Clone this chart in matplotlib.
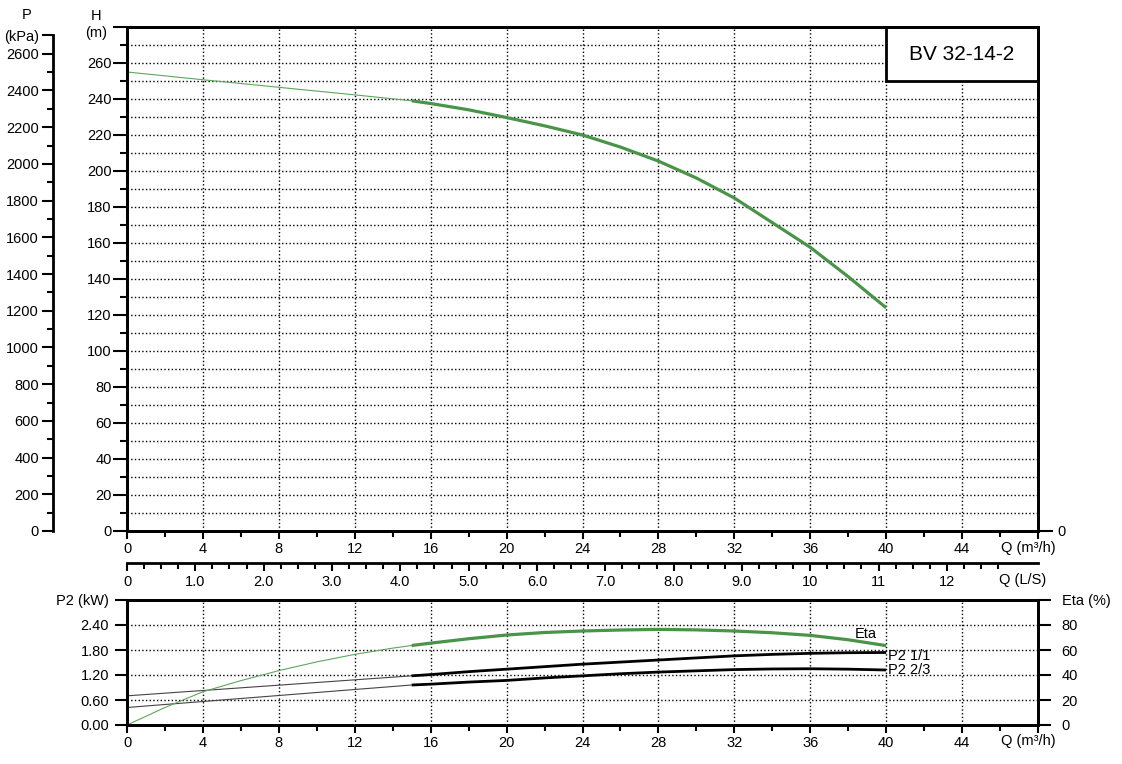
import matplotlib
matplotlib.use("Agg")
import matplotlib.pyplot as plt
from matplotlib.ticker import MultipleLocator
from matplotlib.patches import Rectangle

plt.rcParams['font.family'] = ['Liberation Sans', 'DejaVu Sans']
plt.rcParams['font.size'] = 10.5

# pump curve readings (Q in m3/h)
q_head = [0, 4, 8, 12, 15, 16, 18, 20, 22, 24, 26, 28, 30, 32, 34, 36, 38, 40]
head = [255, 250.7, 246.5, 242.3, 239, 237.5, 234, 229.7, 225.1, 220, 213.3,
        205.5, 196.1, 185, 171.3, 157.6, 141.3, 124]

q_eta = [0, 2, 4, 6, 8, 10, 12, 14, 15, 16, 18, 20, 22, 24, 26, 28, 30, 32,
         34, 36, 38, 40]
eta = [0, 14, 26.6, 35.5, 43.5, 50.5, 56.5, 61.5, 63.6, 65.5, 69, 72, 74,
       75.2, 76, 76.5, 76.1, 75.2, 73.8, 71.7, 68.2, 63.5]

q_p2 = [0, 15, 16, 18, 20, 22, 24, 26, 28, 30, 32, 34, 36, 38, 40]
p2_full = [0.70, 1.18, 1.21, 1.28, 1.34, 1.40, 1.46, 1.51, 1.56, 1.61, 1.66,
           1.695, 1.72, 1.735, 1.74]
p2_twothirds = [0.42, 0.96, 0.98, 1.03, 1.07, 1.13, 1.18, 1.23, 1.27, 1.30,
                1.33, 1.345, 1.35, 1.34, 1.32]

q_ticks = list(range(0, 49, 4))
q_ticklabels = [str(v) for v in range(0, 45, 4)] + ['']
ls_ticklabels = ['0', '1.0', '2.0', '3.0', '4.0', '5.0', '6.0', '7.0', '8.0',
                 '9.0', '10', '11', '12']
p2_ticklabels = ['0.00', '0.60', '1.20', '1.80', '2.40', 'P2 (kW)']
eta_ticklabels = ['0', '20', '40', '60', '80', 'Eta (%)']
model = 'BV 32-14-2'
q_split = 15  # thin line below, thick line above

GREEN = '#4a944a'
GREEN_THIN = '#5fa55f'

W, H = 1122, 764
fig = plt.figure(figsize=(W / 100, H / 100), dpi=100)


def rect(x0, y0, x1, y1):
    return [x0 / W, 1 - y1 / H, (x1 - x0) / W, (y1 - y0) / H]


def ptext(x, y, s, **kw):
    fig.text(x / W, 1 - y / H, s, **kw)


def style_spines(a, lw=2):
    for sp in a.spines.values():
        sp.set_linewidth(lw)


def split(q, v):
    lo = [(a, b) for a, b in zip(q, v) if a <= q_split]
    hi = [(a, b) for a, b in zip(q, v) if a >= q_split]
    return list(zip(*lo)), list(zip(*hi))


grid_kw = dict(linestyle=':', color='black', linewidth=1)

# ---------------- top: head curve ----------------
ax = fig.add_axes(rect(127, 27, 1038, 531))
ax.set_xlim(0, 48)
ax.set_ylim(0, 280)
ax.set_xticks(q_ticks)
ax.set_xticklabels(q_ticklabels)
ax.xaxis.set_minor_locator(MultipleLocator(2))
ax.set_yticks(range(0, 281, 20))
ax.set_yticklabels([str(v) for v in range(0, 261, 20)] + [''])
ax.yaxis.set_minor_locator(MultipleLocator(10))
ax.grid(which='major', axis='x', **grid_kw)
ax.grid(which='both', axis='y', **grid_kw)
ax.tick_params(axis='y', which='major', direction='out', length=10, width=1.5, pad=1)
ax.tick_params(axis='y', which='minor', direction='out', length=5, width=1.5)
ax.tick_params(axis='x', which='major', direction='out', length=6, width=1.5, pad=2)
ax.tick_params(axis='x', which='minor', direction='out', length=4, width=1.5)
style_spines(ax)

(lo_q, lo_h), (hi_q, hi_h) = split(q_head, head)
ax.plot(lo_q, lo_h, color=GREEN_THIN, lw=0.8)
ax.plot(hi_q, hi_h, color=GREEN, lw=2.3, solid_capstyle='butt')

ax.add_patch(Rectangle((40, 250), 8, 30, facecolor='white', edgecolor='black',
                       lw=2, zorder=3, clip_on=False))
ax.text(44, 265, model, ha='center', va='center', fontsize=15, zorder=4)

axr = ax.twinx()
axr.set_ylim(0, 280)
axr.set_yticks([0])
axr.set_yticklabels(['0'])
axr.tick_params(axis='y', direction='out', length=11, width=1.5, pad=3)
style_spines(axr)

# pressure scale (kPa)
axp = fig.add_axes(rect(127, 27, 1038, 531))
axp.patch.set_visible(False)
for k in ['top', 'right', 'bottom']:
    axp.spines[k].set_visible(False)
axp.spines['left'].set_position(('axes', -74 / 911))
axp.spines['left'].set_linewidth(2)
axp.spines['left'].set_bounds(0, 2700)
axp.set_ylim(0, 280 * 9.80665)
axp.set_xticks([])
axp.set_yticks(list(range(0, 2601, 200)) + [2700])
axp.set_yticklabels([str(v) for v in range(0, 2601, 200)] + ['(kPa)'])
axp.yaxis.set_minor_locator(MultipleLocator(100))
axp.tick_params(axis='y', which='major', direction='out', length=8, width=1.5, pad=2)
axp.tick_params(axis='y', which='minor', direction='out', length=4, width=1.5)

ptext(96, 16, 'H', ha='center', va='center')
ptext(96, 33, '(m)', ha='center', va='center')
ptext(27, 15, 'P', ha='center', va='center')
ptext(1028, 548, 'Q (m³/h)', ha='center', va='center')

# ---------------- flow in L/s ----------------
axl = fig.add_axes(rect(127, 562.9, 1038, 563))
axl.patch.set_visible(False)
for k in ['top', 'right', 'left']:
    axl.spines[k].set_visible(False)
axl.spines['bottom'].set_linewidth(2)
axl.set_xlim(0, 48 / 3.6)
axl.set_yticks([])
axl.set_xticks(range(0, 13))
axl.set_xticklabels(ls_ticklabels)
axl.set_xticks([i * 0.25 for i in range(52)], minor=True)
axl.tick_params(axis='x', which='major', direction='out', length=6, width=1.5, pad=3)
axl.tick_params(axis='x', which='minor', direction='out', length=4, width=1.5)
ptext(1023, 580, 'Q (L/S)', ha='center', va='center')

# ---------------- bottom: power and efficiency ----------------
axb = fig.add_axes(rect(127, 600, 1038, 725))
axb.set_xlim(0, 48)
axb.set_ylim(0, 3.0)
axb.set_xticks(q_ticks)
axb.set_xticklabels(q_ticklabels)
axb.xaxis.set_minor_locator(MultipleLocator(2))
axb.set_yticks([0, 0.6, 1.2, 1.8, 2.4, 3.0])
axb.set_yticklabels(p2_ticklabels)
axb.grid(which='major', **grid_kw)
axb.tick_params(axis='y', direction='out', length=9, width=1.5, pad=4)
axb.tick_params(axis='x', which='major', direction='out', length=6, width=1.5, pad=2)
axb.tick_params(axis='x', which='minor', direction='out', length=4, width=1.5)
style_spines(axb)

(lo_q, lo_p), (hi_q, hi_p) = split(q_p2, p2_full)
axb.plot(lo_q, lo_p, color='#444444', lw=0.8)
axb.plot(hi_q, hi_p, color='black', lw=2.0, solid_capstyle='butt')
(lo_q, lo_p), (hi_q, hi_p) = split(q_p2, p2_twothirds)
axb.plot(lo_q, lo_p, color='#444444', lw=0.8)
axb.plot(hi_q, hi_p, color='black', lw=2.0, solid_capstyle='butt')
axb.text(40.1, 1.66, 'P2 1/1', ha='left', va='center')
axb.text(40.1, 1.32, 'P2 2/3', ha='left', va='center')

axe = axb.twinx()
axe.set_ylim(0, 100)
axe.set_yticks(range(0, 101, 20))
axe.set_yticklabels(eta_ticklabels)
axe.tick_params(axis='y', direction='out', length=9, width=1.5, pad=8)
style_spines(axe)

(lo_q, lo_e), (hi_q, hi_e) = split(q_eta, eta)
axe.plot(lo_q, lo_e, color=GREEN_THIN, lw=0.8)
axe.plot(hi_q, hi_e, color=GREEN, lw=2.3, solid_capstyle='butt')
axe.text(38.95, 72.8, 'Eta', ha='center', va='center')

ptext(1028, 741, 'Q (m³/h)', ha='center', va='center')

fig.savefig('out.png', dpi=100)
